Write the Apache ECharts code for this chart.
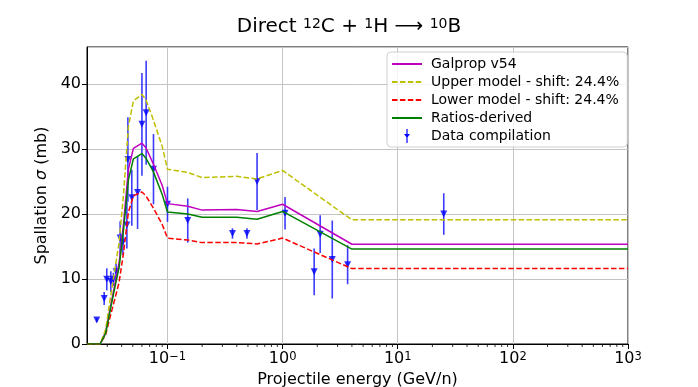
<!DOCTYPE html>
<html>
<head>
<meta charset="utf-8">
<script src="https://cdn.jsdelivr.net/npm/echarts@6/dist/echarts.min.js"></script>
<style>
  html, body { margin: 0; padding: 0; background: #fff; }
  #chart { width: 698px; height: 387px; }
</style>
</head>
<body>
<div id="chart"></div>
<script>
// energy grid of the model curves (GeV/n)
const energies = [0.02, 0.026, 0.029, 0.032, 0.035, 0.038, 0.0415, 0.0458, 0.0506, 0.06, 0.065, 0.075, 0.09, 0.1, 0.15, 0.2, 0.4, 0.6, 1.0, 4.0, 1000];
const galprop = [0, 0, 1.8, 5.8, 9.3, 12.5, 18.5, 26.9, 30.1, 30.9, 30.2, 27.8, 24.4, 21.6, 21.2, 20.6, 20.7, 20.4, 21.5, 15.35, 15.35];
const upperModel = [0, 0, 2.2, 7.2, 11.6, 15.6, 23.0, 33.5, 37.4, 38.4, 37.6, 34.6, 30.4, 26.9, 26.4, 25.6, 25.8, 25.4, 26.7, 19.1, 19.1];
const lowerModel = [0, 0, 1.4, 4.4, 7.0, 9.5, 14.0, 20.3, 22.8, 23.4, 22.8, 21.0, 18.4, 16.3, 16.0, 15.6, 15.6, 15.4, 16.3, 11.6, 11.6];
const ratiosDerived = [0, 0, 1.6, 5.4, 8.8, 11.8, 17.5, 25.3, 28.5, 29.3, 28.6, 26.6, 23.0, 20.3, 20.0, 19.5, 19.5, 19.2, 20.4, 14.6, 14.6];

// data compilation
const dataE = [0.0243, 0.0282, 0.0297, 0.0322, 0.0339, 0.0358, 0.0388, 0.041, 0.0444, 0.0453, 0.049, 0.055, 0.06, 0.0653, 0.0756, 0.1, 0.15, 0.367, 0.49, 0.6, 1.05, 1.88, 2.12, 2.7, 3.67, 25.1];
const dataXS = [3.7, 7.0, 9.95, 9.6, 9.95, 11.1, 16.3, 15.7, 18.3, 28.4, 22.5, 23.3, 33.8, 35.6, 26.9, 21.5, 19.0, 17.0, 17.0, 25.0, 20.1, 11.1, 16.9, 13.0, 12.2, 20.0];
const dataErr = [0.3, 1.0, 1.7, 1.6, 1.0, 1.3, 2.6, 2.0, 3.6, 6.5, 4.3, 5.6, 7.9, 8.0, 5.4, 2.7, 3.4, 0.8, 0.8, 4.4, 2.5, 3.6, 2.9, 6.0, 3.0, 3.2];

// minor ticks of the log axis
const minorTicks = [];
[0.01, 0.1, 1, 10, 100].forEach(function (d) {
  for (let k = 2; k <= 9; k++) {
    const v = +(k * d).toPrecision(3);
    if (v > 0.02 && v < 1000) minorTicks.push(v);
  }
});

const font = 'DejaVu Sans';

function pairs(ys) {
  return energies.map(function (e, i) { return [e, ys[i]]; });
}

function curve(name, ys, color, dashed) {
  return {
    name: name,
    type: 'line',
    data: pairs(ys),
    symbol: 'none',
    silent: true,
    lineStyle: { color: color, width: 1.5, type: dashed ? [5.5, 2.4] : 'solid' },
    itemStyle: { color: color }
  };
}

const chart = echarts.init(document.getElementById('chart'), null, { renderer: 'canvas' });

const option = {
  animation: false,
  backgroundColor: '#fff',
  textStyle: { fontFamily: font },
  title: {
    text: 'Direct {s|12}C + {s|1}H {a|⟶} {s|10}B',
    left: 'center',
    top: 12,
    textStyle: {
      fontFamily: font,
      fontSize: 20,
      fontWeight: 'normal',
      color: '#000',
      rich: {
        s: { fontFamily: font, fontSize: 14, lineHeight: 13, verticalAlign: 'top', color: '#000' },
        a: { fontFamily: font, fontSize: 20, color: '#000' }
      }
    }
  },
  legend: {
    orient: 'vertical',
    left: 387,
    top: 52,
    itemWidth: 30,
    itemHeight: 14,
    itemGap: 4,
    padding: [5, 8, 4, 4],
    backgroundColor: 'rgba(255,255,255,0.8)',
    borderColor: '#d0d0d0',
    borderWidth: 1,
    borderRadius: 4,
    selectedMode: false,
    itemStyle: { opacity: 0 },
    textStyle: { fontFamily: font, fontSize: 14, color: '#000', padding: [0, 0, 0, 4] },
    data: [
      { name: 'Galprop v54' },
      { name: 'Upper model - shift: 24.4%' },
      { name: 'Lower model - shift: 24.4%' },
      { name: 'Ratios-derived' },
      {
        name: 'Data compilation',
        icon: 'path://M4.4,0L5.6,0L5.6,14L4.4,14Z M2,5L8,5L5,9Z',
        itemStyle: { color: '#0000ff', opacity: 1 }
      }
    ]
  },
  grid: {
    left: 87,
    top: 47,
    right: 70,
    bottom: 43,
    outerBoundsMode: 'none',
    show: true,
    borderColor: '#000',
    borderWidth: 1,
    backgroundColor: 'transparent'
  },
  xAxis: {
    type: 'log',
    logBase: 10,
    min: 0.02,
    max: 1000,
    name: 'Projectile energy (GeV/n)',
    nameLocation: 'middle',
    nameGap: 25,
    nameTextStyle: { fontFamily: font, fontSize: 16, color: '#000' },
    axisLine: { lineStyle: { color: '#000', width: 1 } },
    axisTick: { length: 5, lineStyle: { color: '#000' } },
    splitLine: { show: true, lineStyle: { color: '#c4c4c4', width: 1 } },
    axisLabel: {
      margin: 7,
      showMinLabel: false,
      color: '#000',
      fontFamily: font,
      fontSize: 16,
      formatter: function (v) {
        const p = Math.log10(v);
        const r = Math.round(p);
        if (Math.abs(p - r) > 1e-6) return '';
        return '10{s|' + String(r).replace('-', '−') + '}';
      },
      rich: {
        s: { fontFamily: font, fontSize: 11.5, lineHeight: 12, verticalAlign: 'top', color: '#000' }
      }
    }
  },
  yAxis: {
    type: 'value',
    min: 0,
    max: 45.7,
    interval: 10,
    name: 'Spallation {i|σ} (mb)',
    nameLocation: 'middle',
    nameRotate: 90,
    nameGap: 28,
    nameTextStyle: {
      fontFamily: font, fontSize: 16, color: '#000',
      rich: { i: { fontFamily: font, fontSize: 16, fontStyle: 'italic', color: '#000' } }
    },
    axisLine: { show: true, lineStyle: { color: '#000', width: 1 } },
    axisTick: { show: true, length: 5, lineStyle: { color: '#000' } },
    splitLine: { show: true, lineStyle: { color: '#c4c4c4', width: 1 } },
    axisLabel: {
      margin: 6,
      showMaxLabel: false,
      color: '#000',
      fontFamily: font,
      fontSize: 16,
      formatter: function (v) { return v % 10 === 0 ? String(v) : ''; }
    }
  },
  series: [
    curve('Galprop v54', galprop, '#bf00bf', false),
    curve('Upper model - shift: 24.4%', upperModel, '#bfbf00', true),
    curve('Lower model - shift: 24.4%', lowerModel, '#ff0000', true),
    curve('Ratios-derived', ratiosDerived, '#008000', false),
    {
      // error bars
      name: 'Data compilation',
      type: 'custom',
      silent: true,
      data: dataE.map(function (e, i) { return [e, dataXS[i], dataErr[i]]; }),
      encode: { x: 0, y: 1 },
      renderItem: function (params, api) {
        const x = api.value(0), y = api.value(1), err = api.value(2);
        const lo = api.coord([x, y - err]);
        const hi = api.coord([x, y + err]);
        return {
          type: 'line',
          shape: { x1: lo[0], y1: lo[1], x2: hi[0], y2: hi[1] },
          style: { stroke: '#1a1aff', lineWidth: 1.6, opacity: 0.85 }
        };
      }
    },
    {
      name: 'Data compilation',
      type: 'scatter',
      silent: true,
      symbol: 'triangle',
      symbolRotate: 180,
      symbolSize: 7,
      itemStyle: { color: '#0000ff' },
      data: dataE.map(function (e, i) { return [e, dataXS[i]]; })
    },
    {
      // minor ticks on the x axis
      type: 'custom',
      silent: true,
      data: minorTicks.map(function (v) { return [v, 0]; }),
      encode: { x: 0, y: 1 },
      renderItem: function (params, api) {
        const p = api.coord([api.value(0), 0]);
        return {
          type: 'line',
          shape: { x1: p[0], y1: p[1], x2: p[0], y2: p[1] + 3 },
          style: { stroke: '#000', lineWidth: 0.8 }
        };
      }
    }
  ]
};

chart.setOption(option);
</script>
</body>
</html>
